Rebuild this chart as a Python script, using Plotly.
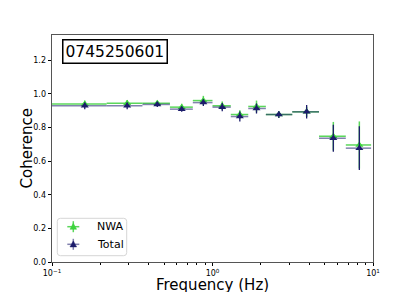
import plotly.graph_objects as go

# Data
freq = [0.16, 0.294, 0.453, 0.643, 0.877, 1.15, 1.48, 1.88, 2.59, 3.86, 5.66, 8.22]
bin_lo = [0.08, 0.219, 0.366, 0.543, 0.754, 1.0, 1.30, 1.67, 2.15, 3.14, 4.61, 6.77]
bin_hi = [0.219, 0.366, 0.543, 0.754, 1.0, 1.30, 1.67, 2.15, 3.14, 4.61, 6.77, 9.73]

nwa_coh = [0.940, 0.944, 0.944, 0.921, 0.960, 0.929, 0.877, 0.925, 0.877, 0.893, 0.748, 0.696]
nwa_err = [0.02, 0.02, 0.015, 0.02, 0.028, 0.025, 0.025, 0.035, 0.02, 0.03, 0.085, 0.14]
tot_coh = [0.929, 0.929, 0.937, 0.909, 0.948, 0.921, 0.865, 0.913, 0.877, 0.893, 0.736, 0.677]
tot_err = [0.02, 0.02, 0.015, 0.015, 0.02, 0.025, 0.03, 0.03, 0.02, 0.04, 0.08, 0.13]

series_names = ["NWA", "Total"]
obs_id = "0745250601"
x_title = "Frequency (Hz)"
y_title = "Coherence"
xtick_vals = [0.1, 1, 10]
xtick_text = ["10<sup>−1</sup>", "10<sup>0</sup>", "10<sup>1</sup>"]
ytick_vals = [0.0, 0.2, 0.4, 0.6, 0.8, 1.0, 1.2]

xerr_plus = [h - f for f, h in zip(freq, bin_hi)]
xerr_minus = [f - l for f, l in zip(freq, bin_lo)]

green = "#3ed43e"
green_bar = "rgba(50,205,50,0.8)"
navy = "#1c1c6b"
navy_bar = "rgba(28,28,107,0.55)"

fig = go.Figure()
fig.add_trace(go.Scatter(
    x=freq, y=nwa_coh, mode="markers", name=series_names[0], showlegend=False,
    marker=dict(symbol="triangle-up", size=7, color=green),
    error_x=dict(type="data", array=xerr_plus, arrayminus=xerr_minus, color=green_bar, thickness=1.5, width=0),
    error_y=dict(type="data", array=nwa_err, color=green_bar, thickness=1.5, width=0),
))
fig.add_trace(go.Scatter(
    x=freq, y=tot_coh, mode="markers", name=series_names[1], showlegend=False,
    marker=dict(symbol="triangle-up", size=7, color=navy),
    error_x=dict(type="data", array=xerr_plus, arrayminus=xerr_minus, color=navy_bar, thickness=1.5, width=0),
    error_y=dict(type="data", array=tot_err, color=navy, thickness=1.3, width=0),
))

minor_vals = [m * 10 ** e for e in (-1, 0) for m in range(2, 10)]

# plot area in pixels (figure coords) for converting legend geometry to paper units
PW, PH = 321.0, 227.0
def px(dx):
    return dx / PW
def py(dy):
    return dy / PH

shapes = []
# legend frame (rounded)
x0, x1, y0, y1 = px(5.3), px(74.7), py(6.3), py(43.7)
rx, ry = px(3), py(3)
shapes.append(dict(
    type="path", xref="paper", yref="paper",
    path=(f"M {x0+rx},{y0} L {x1-rx},{y0} Q {x1},{y0} {x1},{y0+ry} "
          f"L {x1},{y1-ry} Q {x1},{y1} {x1-rx},{y1} L {x0+rx},{y1} "
          f"Q {x0},{y1} {x0},{y1-ry} L {x0},{y0+ry} Q {x0},{y0} {x0+rx},{y0} Z"),
    line=dict(color="#d6d6d6", width=1), fillcolor="rgba(255,255,255,0.8)", layer="above"))

annotations = []
legend_rows = [(series_names[0], green_bar, green, 35.3), (series_names[1], navy_bar, navy, 17.7)]
cx = px(21.3)
for name, bar_col, mk_col, cy_px in legend_rows:
    cy = py(cy_px)
    shapes.append(dict(type="line", xref="paper", yref="paper", x0=cx - px(6), x1=cx + px(6),
                       y0=cy, y1=cy, line=dict(color=bar_col, width=1.5), layer="above"))
    shapes.append(dict(type="line", xref="paper", yref="paper", x0=cx, x1=cx,
                       y0=cy - py(5.5), y1=cy + py(5.5), line=dict(color=bar_col, width=1.5), layer="above"))
    tx0, tx1, tb, tt = cx - px(3.3), cx + px(3.3), cy - py(2.6), cy + py(3.4)
    shapes.append(dict(type="path", xref="paper", yref="paper",
                       path=f"M {tx0},{tb} L {tx1},{tb} L {cx},{tt} Z",
                       line=dict(color=mk_col, width=0.5), fillcolor=mk_col, layer="above"))
    annotations.append(dict(text=name, xref="paper", yref="paper", x=px(43), y=cy,
                            xanchor="left", yanchor="middle", showarrow=False,
                            font=dict(size=11, color="black")))

annotations.append(dict(text=obs_id, xref="paper", yref="paper", x=0.031, y=0.982,
                        xanchor="left", yanchor="top", showarrow=False,
                        font=dict(size=15.5), bordercolor="black", borderwidth=1.5,
                        borderpad=2, bgcolor="white"))
annotations.append(dict(text=x_title, xref="paper", yref="paper", x=0.5, y=-py(22),
                        xanchor="center", yanchor="middle", showarrow=False,
                        height=15, valign="middle", font=dict(size=15)))
annotations.append(dict(text=y_title, xref="paper", yref="paper", x=-px(26), y=0.5,
                        xanchor="center", yanchor="middle", showarrow=False,
                        textangle=-90, font=dict(size=15)))

# the page places the figure 8px in from the top-left corner
fig.update_layout(
    width=407, height=286,
    margin=dict(l=44, r=42, t=27, b=32, autoexpand=False),
    paper_bgcolor="white", plot_bgcolor="white",
    font=dict(family="DejaVu Sans", color="black"),
    showlegend=False,
    xaxis=dict(type="log", range=[-1, 1], tickvals=xtick_vals, ticktext=xtick_text,
               ticks="outside", ticklen=3.5, tickwidth=0.8, tickcolor="black",
               tickfont=dict(size=8), showgrid=False, zeroline=False, automargin=False,
               showline=True, linecolor="#555555", linewidth=0.8, mirror=True,
               minor=dict(tickvals=minor_vals, ticks="outside", ticklen=2, tickcolor="black", showgrid=False)),
    yaxis=dict(range=[0, 1.35], tickvals=ytick_vals, tickformat=".1f",
               ticks="outside", ticklen=3.5, tickwidth=0.8, tickcolor="black",
               tickfont=dict(size=8), showgrid=False, zeroline=False, automargin=False,
               showline=True, linecolor="#555555", linewidth=0.8, mirror=True),
    shapes=shapes,
    annotations=annotations,
)

fig.write_html("out.html")
